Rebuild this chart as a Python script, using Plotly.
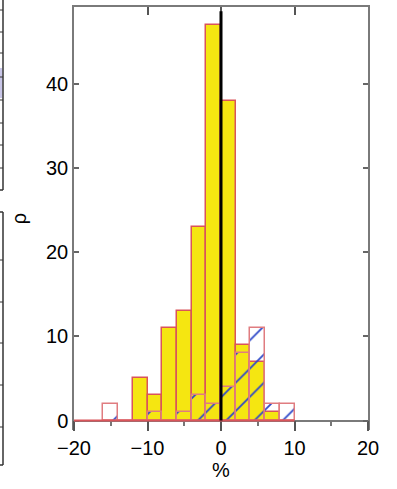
import plotly.graph_objects as go

# Histogram bins (2 % wide) and counts
bin_centers = [-15, -13, -11, -9, -7, -5, -3, -1, 1, 3, 5, 7, 9]
solid_counts = [0, 0, 5, 3, 11, 13, 23, 47, 38, 9, 7, 1, 0]
hatched_counts = [2, 0, 0, 1, 0, 1, 3, 2, 4, 8, 11, 2, 2]
bin_width = 2

x_ticks = [-20, -10, 0, 10, 20]
x_minor = [-15, -5, 5, 15]
y_ticks = [0, 10, 20, 30, 40]

X_RANGE = [-20, 20]
Y_RANGE = [-1.13, 49.2]

W, H = 397, 489
ML, MR, MT, MB = 74, 29, 7, 59
PW, PH = W - ML - MR, H - MT - MB

FONT = "Liberation Sans, Arial, Helvetica, sans-serif"
AXIS_GREY = "#7a7a7a"
YELLOW = "#F5E611"
EDGE_SOLID = "#D9545A"
EDGE_HATCH = "#E07C80"
HATCH_BLUE = "#2E48C8"


def px(x):
    return (x - ML) / PW


def py(y):
    return 1 - (y - MT) / PH


fig = go.Figure()

fig.add_trace(go.Bar(
    x=bin_centers, y=solid_counts, width=bin_width,
    marker=dict(color=YELLOW, line=dict(color=EDGE_SOLID, width=1.5)),
    showlegend=False, hoverinfo="skip",
))

fig.add_trace(go.Bar(
    x=bin_centers, y=hatched_counts, width=bin_width,
    marker=dict(
        color="rgba(255,255,255,0)",
        line=dict(color=EDGE_HATCH, width=1.5),
        pattern=dict(shape="/", fgcolor=HATCH_BLUE, fgopacity=1,
                     bgcolor="rgba(255,255,255,0)",
                     size=20, solidity=0.09, fillmode="overlay"),
    ),
    showlegend=False, hoverinfo="skip",
))

# carrier trace for the top frame axis
fig.add_trace(go.Scatter(x=X_RANGE, y=[0, 0], xaxis="x2", mode="lines",
                         line=dict(width=0), opacity=0,
                         showlegend=False, hoverinfo="skip"))

x_axis_pos = (0 - Y_RANGE[0]) / (Y_RANGE[1] - Y_RANGE[0])

fig.update_layout(
    width=W, height=H,
    margin=dict(l=ML, r=MR, t=MT, b=MB, pad=0),
    paper_bgcolor="white", plot_bgcolor="white",
    barmode="overlay", bargap=0,
    font=dict(family=FONT, size=20, color="black"),
    xaxis=dict(
        range=X_RANGE, anchor="free", position=x_axis_pos,
        showgrid=False, zeroline=False,
        showline=True, linecolor=AXIS_GREY, linewidth=1.5,
        ticks="outside", tickvals=x_ticks, ticklen=10, tickwidth=1.5,
        tickcolor="#555555",
        minor=dict(tickvals=x_minor, ticks="outside", ticklen=5,
                   tickwidth=1.5, tickcolor="#777777"),
        tickfont=dict(size=20),
        title=dict(text="%", font=dict(size=20), standoff=4),
    ),
    xaxis2=dict(
        range=X_RANGE, overlaying="x", side="top", anchor="y",
        showgrid=False, zeroline=False,
        showline=True, linecolor=AXIS_GREY, linewidth=1.5,
        ticks="inside", tickvals=x_ticks, ticklen=8, tickwidth=1.5,
        tickcolor="#555555", showticklabels=False,
    ),
    yaxis=dict(
        range=Y_RANGE, showgrid=False, zeroline=False,
        showline=True, linecolor=AXIS_GREY, linewidth=1.5, mirror="ticks",
        ticks="inside", tickvals=y_ticks, ticklen=5, tickwidth=1.5,
        tickcolor="#666666",
        tickfont=dict(size=20),
        title=dict(text="ρ", font=dict(size=20), standoff=14),
    ),
)

# baseline under the bars, spanning the left axis to the last bin edge
last_edge = max(c + bin_width / 2 for c, s, h in
                zip(bin_centers, solid_counts, hatched_counts) if s or h)
fig.add_shape(type="line", xref="x", yref="y", x0=X_RANGE[0], x1=last_edge,
              y0=0, y1=0, line=dict(color=EDGE_SOLID, width=1.8), layer="above")

# zero reference line
fig.add_shape(type="line", xref="x", yref="y", x0=0, x1=0, y0=0, y1=48.7,
              line=dict(color="black", width=3), layer="above")

# edge of the neighbouring panels on the left
PANEL = "#333333"
for top, bottom, ticks in [(-5, 190, [10, 32, 53, 77, 100, 123, 145, 168]),
                           (212, 465, [260, 302, 343, 385, 427])]:
    fig.add_shape(type="line", xref="paper", yref="paper",
                  x0=px(3), x1=px(3), y0=py(top), y1=py(bottom),
                  line=dict(color=PANEL, width=1.5))
    if bottom < 480:
        fig.add_shape(type="line", xref="paper", yref="paper",
                      x0=px(-5), x1=px(3), y0=py(bottom), y1=py(bottom),
                      line=dict(color=PANEL, width=1.5))
    if top > 0:
        fig.add_shape(type="line", xref="paper", yref="paper",
                      x0=px(-5), x1=px(3), y0=py(top), y1=py(top),
                      line=dict(color=PANEL, width=1.5))
    for t in ticks:
        fig.add_shape(type="line", xref="paper", yref="paper",
                      x0=px(0), x1=px(3), y0=py(t), y1=py(t),
                      line=dict(color=PANEL, width=1))
fig.add_shape(type="rect", xref="paper", yref="paper",
              x0=px(-5), x1=px(2.2), y0=py(98), y1=py(68),
              line=dict(width=0), fillcolor="#C9C6E8", layer="below")

fig.write_html("out.html")
